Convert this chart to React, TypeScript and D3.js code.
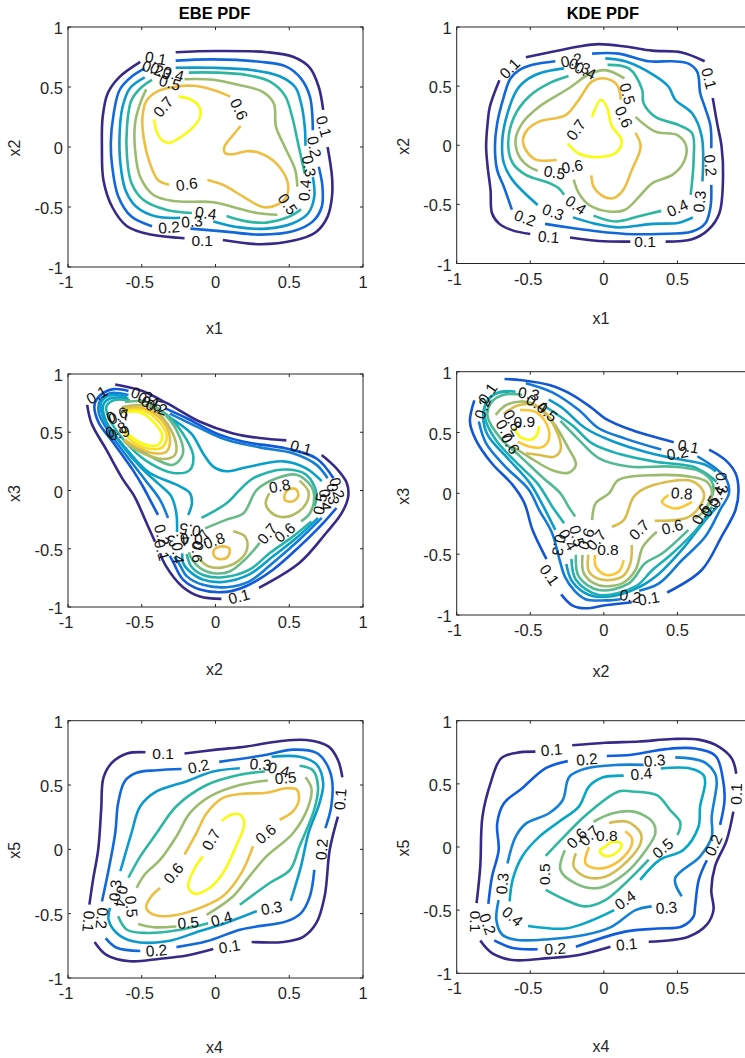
import React from "react";
import * as d3 from "d3";

type Seg = number[][];
type Contour = [number, Seg[]];
type Label = [string, number, number, number];

const tickValues = [-1, -0.5, 0, 0.5, 1];
const tickLabels = ["-1", "-0.5", "0", "0.5", "1"];
const parulaStops = ["#352a87", "#0f5cdd", "#1481d6", "#06a7c5", "#2db7a3", "#80bd7e", "#d2bb4f", "#fcbf38", "#f9fb0e"];

const ebe12: Contour[] = [
  [0.1, [
    [[-.27,.79],[0,.80],[.35,.79],[.53,.75],[.64,.66],[.70,.50],[.73,.31]],
    [[.76,0],[.79,-.25],[.79,-.41],[.76,-.58],[.68,-.71],[.53,-.78],[.30,-.81],[.05,-.775]],
    [[-.21,-.76],[-.44,-.73],[-.60,-.66],[-.70,-.50],[-.76,-.275],[-.77,0],[-.765,.25],[-.73,.45],[-.65,.585],[-.51,.71]],
  ]],
  [0.2, [
    [[-.27,.72],[-.02,.73],[.30,.71],[.48,.67],[.58,.57],[.64,.42],[.66,.14]],
    [[.70,-.165],[.725,-.33],[.72,-.50],[.66,-.62],[.53,-.70],[.30,-.73],[.07,-.705],[-.17,-.68]],
    [[-.43,-.66],[-.57,-.58],[-.66,-.41],[-.70,-.165],[-.71,.03],[-.69,.28],[-.65,.475],[-.57,.585],[-.48,.655]],
  ]],
  [0.3, [
    [[-.27,.66],[-.02,.66],[.255,.64],[.435,.59],[.54,.50],[.58,.365],[.605,.17],[.61,.01]],
    [[.66,-.25],[.67,-.41],[.63,-.55],[.525,-.635],[.345,-.68],[.165,-.67],[-.015,-.62]],
    [[-.24,-.59],[-.40,-.58],[-.535,-.50],[-.61,-.36],[-.645,-.135],[-.65,.115],[-.63,.335],[-.58,.49],[-.48,.58]],
  ]],
  [0.4, [
    [[-.18,.62],[.005,.62],[.21,.60],[.37,.545],[.47,.43],[.52,.25],[.56,.03],[.605,-.22]],
    [[.58,-.52],[.50,-.58],[.345,-.63],[.21,-.62],[.075,-.575]],
    [[-.16,-.55],[-.33,-.525],[-.49,-.44],[-.57,-.30],[-.60,-.08],[-.60,.17],[-.57,.39],[-.50,.50],[-.43,.56]],
  ]],
  [0.5, [
    [[-.21,.565],[-.015,.56],[.165,.515],[.32,.46],[.395,.365],[.41,.17],[.47,0],[.54,-.19],[.555,-.33]],
    [[.42,-.565],[.28,-.55],[.12,-.50],[-.015,-.46],[-.285,-.45],[-.42,-.40],[-.51,-.25],[-.545,-.025],[-.545,.20],[-.51,.365],[-.47,.48]],
  ]],
  [0.6, [
    [[.10,.42],[-.015,.475],[-.15,.51],[-.285,.50],[-.40,.46],[-.47,.38],[-.495,.25],[-.485,.06],[-.445,-.135],[-.39,-.275],[-.315,-.315]],
    [[-.055,-.275],[.05,-.315],[.19,-.415],[.32,-.50],[.41,-.485],[.48,-.415],[.49,-.30],[.41,-.135],[.30,-.05],[.21,-.035],[.12,-.06],[.065,-.05],[.06,0],[.12,.10],[.17,.175]],
  ]],
  [0.7, [
    [[-.25,.42],[-.175,.40],[-.11,.335],[-.105,.25],[-.16,.155],[-.265,.06],[-.31,.035],[-.355,.05],[-.40,.13],[-.415,.23]],
  ]],
];
const ebe12Labels: Label[] = [
  ["0.1",-.405,.74,10],["0.2",-.425,.655,20],["0.3",-.37,.635,25],["0.4",-.285,.61,15],["0.5",-.31,.535,15],
  ["0.7",-.355,.335,-50],["0.6",.16,.315,65],["0.1",.735,.17,75],["0.2",.67,0,80],["0.3",.635,-.16,80],
  ["0.4",.605,-.36,-85],["0.5",.49,-.475,55],["0.6",-.195,-.31,-8],["0.4",-.065,-.55,8],["0.3",-.16,-.62,-5],
  ["0.2",-.315,-.67,-5],["0.1",-.09,-.775,0],
];

const kde12: Contour[] = [
  [0.1, [
    [[-.53,.745],[-.35,.79],[-.17,.835],[-.035,.855],[.145,.835],[.33,.80],[.53,.785],[.685,.71]],
    [[.74,.40],[.77,.185],[.80,-.01],[.81,-.265],[.785,-.575],[.71,-.715],[.60,-.795],[.42,-.815]],
    [[.18,-.815],[-.035,-.81],[-.23,-.78]],
    [[-.50,-.75],[-.62,-.72],[-.71,-.665],[-.76,-.575],[-.77,-.38],[-.79,-.18],[-.80,-.01],[-.79,.185],[-.775,.325],[-.71,.55]],
  ]],
  [0.2, [
    [[-.33,.71],[-.485,.68],[-.575,.635],[-.635,.565],[-.68,.41],[-.725,.185],[-.74,-.01],[-.725,-.21],[-.68,-.35],[-.625,-.545]],
    [[-.08,.775],[.10,.775],[.305,.71],[.465,.71],[.575,.69],[.635,.62],[.655,.44],[.69,.31],[.725,.16],[.73,-.025]],
    [[.73,-.335],[.725,-.52],[.69,-.66],[.60,-.73],[.37,-.75],[.15,-.75],[-.035,-.73],[-.215,-.70],[-.40,-.665]],
  ]],
  [0.3, [
    [[-.27,.65],[-.42,.615],[-.51,.565],[-.59,.47],[-.655,.27],[-.69,.045],[-.68,-.15],[-.62,-.295],[-.45,-.505]],
    [[.01,.735],[.145,.71],[.35,.585],[.44,.495],[.485,.385],[.60,.27],[.665,.075],[.67,-.305]],
    [[.605,-.61],[.51,-.655],[.33,-.665],[.10,-.695],[-.055,-.665],[-.21,-.61]],
  ]],
  [0.4, [
    [[-.24,.585],[-.37,.525],[-.51,.41],[-.61,.24],[-.65,.015],[-.62,-.15],[-.53,-.25],[-.37,-.32],[-.305,-.365],[-.27,-.42]],
    [[.025,.68],[.17,.65],[.26,.47],[.27,.355],[.35,.24],[.51,.17],[.60,.10],[.61,-.125],[.59,-.42]],
    [[.39,-.555],[.24,-.60],[.08,-.645],[-.07,-.595]],
  ]],
  [0.5, [
    [[.14,.565],[.01,.635],[-.10,.60],[-.24,.48],[-.44,.325],[-.555,.185],[-.60,.045],[-.575,-.095],[-.51,-.18],[-.45,-.215]],
    [[.215,.24],[.35,.115],[.50,.085],[.56,-.01],[.54,-.15],[.465,-.25],[.33,-.32],[.24,-.435],[.145,-.545],[.035,-.56],[-.10,-.505],[-.17,-.405],[-.205,-.29]],
  ]],
  [0.6, [
    [[.115,.385],[.09,.51],[.01,.565],[-.08,.54],[-.17,.385],[-.26,.255],[-.44,.20],[-.52,.13],[-.55,.045],[-.53,-.04],[-.465,-.12],[-.32,-.125]],
    [[.215,.105],[.25,-.01],[.19,-.21],[.125,-.39],[.055,-.45],[-.02,-.42],[-.07,-.35],[-.085,-.255]],
  ]],
  [0.7, [
    [[-.08,.24],[-.02,.385],[.02,.325],[.055,.16],[.12,.045],[.09,-.055],[-.035,-.10],[-.17,-.07],[-.245,.015]],
  ]],
];
const kde12Labels: Label[] = [
  ["0.1",-.64,.65,-45],["0.2",-.22,.72,-12],["0.3",-.165,.67,20],["0.4",-.125,.63,25],["0.1",.715,.565,75],
  ["0.5",.16,.435,75],["0.6",.135,.24,65],["0.7",-.19,.13,-55],["0.2",.725,-.17,85],["0.3",.65,-.475,-85],
  ["0.4",.50,-.53,-25],["0.6",-.215,-.18,-10],["0.5",-.335,-.23,10],["0.4",-.19,-.505,35],["0.3",-.345,-.565,20],
  ["0.2",-.535,-.615,20],["0.1",-.375,-.775,5],["0.1",.28,-.815,0],
];

const ebe23: Contour[] = [
  [0.1, [
    [[-.68,.91],[-.51,.86],[-.33,.75],[-.105,.59],[.12,.49],[.30,.45],[.48,.43]],
    [[.72,.305],[.82,.19],[.89,.065],[.90,-.05],[.855,-.195],[.75,-.365],[.57,-.62],[.295,-.835]],
    [[.04,-.93],[-.105,-.91],[-.22,-.83],[-.34,-.64],[-.376,-.537]],
    [[-.87,.735],[-.84,.575],[-.74,.35],[-.63,.10],[-.55,-.05],[-.512,-.15],[-.46,-.30],[-.41,-.44]],
  ]],
  [0.2, [
    [[-.59,.855],[-.69,.87],[-.78,.82],[-.82,.735],[-.795,.59],[-.69,.405],[-.56,.175],[-.49,.03],[-.444,-.08],[-.39,-.21]],
    [[-.34,.705],[-.195,.62],[.005,.49],[.185,.42],[.48,.36],[.685,.275],[.80,.105]],
    [[.82,-.15],[.73,-.28],[.57,-.48],[.39,-.68],[.21,-.82],[.075,-.87],[-.105,-.85],[-.22,-.765],[-.285,-.62],[-.31,-.56]],
  ]],
  [0.3, [
    [[-.59,.82],[-.715,.835],[-.78,.78],[-.79,.66],[-.715,.49],[-.58,.26],[-.47,.08],[-.376,-.08],[-.322,-.236]],
    [[-.31,.66],[-.105,.535],[.075,.435],[.30,.37],[.525,.32],[.685,.22],[.76,.105]],
    [[.72,-.235],[.57,-.42],[.39,-.62],[.23,-.78],[.075,-.83],[-.085,-.81],[-.195,-.735],[-.25,-.62],[-.28,-.57]],
  ]],
  [0.4, [
    [[-.60,.805],[-.72,.815],[-.775,.755],[-.765,.64],[-.64,.40],[-.50,.19],[-.38,.05],[-.30,-.05],[-.265,-.2],[-.261,-.356]],
    [[-.59,.79],[-.715,.79],[-.76,.735],[-.74,.59],[-.58,.32],[-.445,.15],[-.265,.05],[-.175,-.02],[-.16,-.11],[-.185,-.21]],
    [[-.32,.635],[-.165,.49],[-.085,.32],[-.015,.205],[.075,.165],[.21,.20],[.46,.25],[.615,.19],[.72,.08]],
    [[.695,-.235],[.56,-.395],[.39,-.565],[.23,-.72],[.05,-.785],[-.085,-.765],[-.175,-.695],[-.22,-.62],[-.225,-.54]],
  ]],
  [0.5, [
    [[-.58,.775],[-.69,.775],[-.74,.72],[-.715,.605],[-.58,.375],[-.445,.235],[-.285,.15],[-.175,.175],[-.15,.29],[-.195,.435],[-.33,.65],[-.445,.735]],
    [[-.095,-.235],[.075,-.11],[.165,.005],[.255,.105],[.46,.18],[.615,.135],[.685,-.025],[.67,-.135]],
    [[.65,-.265],[.525,-.395],[.37,-.535],[.23,-.68],[.05,-.745],[-.085,-.725],[-.165,-.65],[-.195,-.545]],
  ]],
  [0.6, [
    [[-.615,.76],[-.465,.76],[-.355,.665],[-.265,.52],[-.22,.32],[-.285,.22],[-.40,.265],[-.535,.365],[-.62,.43]],
    [[-.07,-.325],[.075,-.25],[.19,-.195],[.28,.005],[.415,.105],[.55,.135],[.65,.035],[.67,-.05],[.64,-.195],[.58,-.265]],
    [[.30,-.45],[.21,-.58],[.095,-.695],[-.015,-.71],[-.105,-.665],[-.165,-.58],[-.18,-.53]],
  ]],
  [0.7, [
    [[-.635,.715],[-.465,.725],[-.355,.62],[-.27,.42],[-.275,.305],[-.355,.27],[-.465,.305],[-.56,.365],[-.62,.42]],
    [[.57,.085],[.63,-.01],[.615,-.11],[.525,-.21],[.435,-.225],[.37,-.18],[.34,-.11],[.365,-.025]],
    [[.12,-.35],[.20,-.395],[.215,-.495],[.165,-.595],[.05,-.66],[-.05,-.65],[-.115,-.58]],
  ]],
  [0.8, [
    [[-.635,.70],[-.49,.705],[-.375,.62],[-.31,.465],[-.33,.335],[-.42,.32],[-.535,.375],[-.62,.44]],
    [[.47,-.025],[.505,.015],[.55,.005],[.56,-.05],[.52,-.095],[.47,-.08],[.47,-.025]],
    [[-.005,-.50],[.04,-.48],[.095,-.50],[.085,-.565],[.04,-.59],[-.005,-.57],[-.015,-.53],[-.005,-.50]],
  ]],
  [0.9, [
    [[-.63,.68],[-.50,.69],[-.39,.60],[-.33,.47],[-.36,.37],[-.455,.36],[-.56,.42],[-.625,.505]],
  ]],
  [1.0, [
    [[-.63,.67],[-.51,.67],[-.41,.575],[-.36,.47],[-.39,.39],[-.465,.39],[-.56,.45],[-.62,.52]],
  ]],
];
const ebe23Labels: Label[] = [
  ["0.1",-.805,.82,-30],["0.3",-.50,.82,20],["0.4",-.455,.775,20],["0.5",-.43,.745,20],["0.2",-.40,.715,20],
  ["0.6",-.668,.648,-20],["0.7",-.654,.635,-15],["0.8",-.675,.52,-20],["0.9",-.654,.494,-15],
  ["0.1",.58,.37,15],["0.2",.824,.02,75],["0.3",.797,-.03,85],["0.4",.745,-.08,85],["0.5",.708,-.115,-80],
  ["0.8",.435,.04,-10],["0.8",-.01,-.43,-20],["0.7",.35,-.37,-50],["0.6",.47,-.36,-40],["0.1",.16,-.91,-15],
  ["0.2",-.363,-.382,75],["0.1",-.363,-.51,75],["0.3",-.254,-.425,170],["0.4",-.16,-.425,175],["0.5",-.173,-.339,190],
  ["0.4",-.254,-.536,85],["0.6",-.125,-.528,90],["0.7",-.098,-.425,-60],
];

const kde23: Contour[] = [
  [0.1, [
    [[-.675,.94],[-.555,.93],[-.37,.89],[-.215,.81],[-.08,.70],[.01,.615],[.19,.52],[.475,.42]],
    [[.715,.36],[.825,.275],[.895,.165],[.915,.03],[.895,-.135],[.80,-.355],[.665,-.63],[.43,-.815]],
    [[.19,-.895],[.01,-.92],[-.125,-.945],[-.215,-.92],[-.29,-.83]],
    [[-.39,-.54],[-.485,-.30],[-.54,-.08],[-.62,.07],[-.76,.245],[-.87,.44],[-.91,.59],[-.88,.765]],
  ]],
  [0.2, [
    [[-.85,.59],[-.80,.41],[-.67,.22],[-.51,.03],[-.44,-.135],[-.352,-.326],[-.30,-.55],[-.264,-.687],[-.20,-.80],[-.125,-.87],[.01,-.88],[.115,-.87]],
    [[-.53,.905],[-.35,.83],[-.17,.685],[-.035,.535],[.145,.45],[.39,.36]],
    [[.635,.305],[.76,.205],[.835,.11],[.85,0],[.79,-.135],[.69,-.355],[.53,-.55],[.375,-.74],[.24,-.80]],
  ]],
  [0.3, [
    [[-.645,.835],[-.735,.82],[-.80,.74],[-.82,.63],[-.79,.48],[-.655,.29],[-.50,.08],[-.41,-.11],[-.33,-.30]],
    [[-.375,.77],[-.28,.70],[-.125,.535],[.055,.43],[.285,.34],[.465,.29],[.69,.235],[.76,.18]],
    [[-.255,-.58],[-.215,-.725],[-.10,-.835],[.055,-.845],[.24,-.77],[.375,-.66],[.53,-.465],[.69,-.22],[.77,-.11]],
  ]],
  [0.4, [
    [[-.60,.835],[-.70,.835],[-.79,.765],[-.81,.63],[-.735,.44],[-.60,.26],[-.45,.08],[-.35,-.11],[-.27,-.245]],
    [[-.395,.71],[-.215,.56],[-.08,.41],[.10,.325],[.35,.26],[.60,.22],[.71,.15],[.765,.095]],
    [[.735,-.11],[.645,-.275],[.465,-.495],[.33,-.63],[.215,-.765],[-.035,-.835],[-.19,-.71],[-.22,-.54]],
  ]],
  [0.5, [
    [[-.555,.81],[-.68,.81],[-.77,.74],[-.79,.63],[-.70,.45],[-.565,.30],[-.42,.135],[-.295,0],[-.24,-.11],[-.195,-.19]],
    [[-.295,.595],[-.17,.44],[-.035,.29],[.17,.22],[.465,.22],[.655,.18],[.735,.095],[.745,.03],[.725,-.055],[.665,-.165]],
    [[.575,-.30],[.395,-.495],[.28,-.575],[.17,-.74],[-.035,-.795],[-.17,-.685],[-.19,-.505]],
  ]],
  [0.6, [
    [[-.735,.645],[-.665,.725],[-.555,.755],[-.465,.725],[-.35,.59],[-.24,.37],[-.19,.235],[-.24,.17],[-.35,.19],[-.51,.30],[-.62,.385]],
    [[-.08,-.22],[-.055,-.08],[.035,0],[.10,.11],[.35,.15],[.60,.135],[.70,.095],[.735,0],[.69,-.135],[.62,-.205]],
    [[.36,-.315],[.265,-.44],[.215,-.63],[.125,-.74],[-.035,-.755],[-.135,-.66],[-.145,-.505]],
  ]],
  [0.7, [
    [[-.68,.65],[-.58,.725],[-.44,.71],[-.315,.495],[-.295,.355],[-.34,.30],[-.44,.315],[-.53,.33]],
    [[.055,-.275],[.135,-.22],[.205,-.025],[.305,.055],[.60,.10],[.68,0],[.635,-.135],[.555,-.205],[.345,-.225]],
    [[.19,-.425],[.18,-.575],[.125,-.685],[-.01,-.71],[-.10,-.645],[-.105,-.505]],
  ]],
  [0.8, [
    [[-.57,.685],[-.465,.67],[-.385,.56],[-.375,.44],[-.42,.38],[-.51,.385],[-.585,.425]],
    [[.135,-.55],[.10,-.645],[.01,-.67],[-.055,-.60],[-.06,-.505]],
    [[.44,-.015],[.395,-.07],[.485,-.125],[.60,-.07]],
  ]],
  [0.9, [
    [[-.61,.54],[-.565,.46],[-.485,.445],[-.45,.495],[-.44,.555]],
  ]],
];
const kde23Labels: Label[] = [
  ["0.1",-.79,.82,-55],["0.2",-.825,.70,-70],["0.3",-.51,.82,10],["0.4",-.455,.74,30],["0.5",-.385,.67,40],
  ["0.9",-.54,.59,0],["0.8",-.62,.60,60],["0.7",-.67,.52,60],["0.6",-.635,.41,60],["0.1",.575,.385,10],
  ["0.2",.50,.33,-10],["0.8",.53,0,5],["0.3",.803,.085,85],["0.4",.769,-.03,-70],["0.5",.72,-.105,-60],["0.6",.66,-.17,-60],
  ["0.6",.465,-.275,-15],["0.7",.24,-.30,-45],["0.8",.028,-.465,0],["0.1",-.37,-.67,55],["0.2",.18,-.845,10],
  ["0.1",.305,-.865,-10],["0.3",-.305,-.425,100],["0.4",-.244,-.383,60],["0.5",-.182,-.35,75],["0.6",-.121,-.375,-70],["0.7",-.053,-.383,-50],
];

const ebe45: Contour[] = [
  [0.1, [
    [[-.475,.755],[-.60,.745],[-.705,.67],[-.76,.555],[-.775,.31],[-.795,0],[-.83,-.235],[-.855,-.43]],
    [[-.82,-.72],[-.74,-.82],[-.58,-.87],[-.375,-.85],[-.195,-.825],[-.015,-.775]],
    [[.245,-.72],[.46,-.72],[.595,-.68],[.685,-.57],[.74,-.365],[.775,0],[.83,.255]],
    [[.86,.56],[.83,.695],[.765,.80],[.615,.85],[.435,.84],[.21,.80],[.005,.775],[-.21,.745]],
  ]],
  [0.2, [
    [[-.23,.625],[-.40,.615],[-.535,.595],[-.615,.53],[-.66,.36],[-.68,.125],[-.725,-.16],[-.77,-.405]],
    [[-.745,-.69],[-.67,-.765],[-.51,-.79]],
    [[-.265,-.76],[-.06,-.715],[.165,-.625],[.28,-.60],[.48,-.56],[.58,-.495],[.64,-.365],[.67,-.16]],
    [[.745,.165],[.785,.335],[.79,.54],[.75,.67],[.685,.75],[.525,.775],[.345,.735],[.025,.68]],
  ]],
  [0.3, [
    [[.165,.63],[-.015,.605],[-.195,.53],[-.40,.45],[-.51,.335],[-.57,.125],[-.645,-.17]],
    [[.38,.72],[.57,.72],[.685,.66],[.73,.515],[.705,.36],[.63,.125],[.58,-.13],[.51,-.40]],
    [[.28,-.48],[.075,-.57],[-.105,-.635],[-.33,-.715],[-.56,-.715],[-.67,-.65],[-.725,-.545],[-.715,-.455]],
  ]],
  [0.4, [
    [[.335,.605],[.165,.58],[-.06,.50],[-.265,.335],[-.40,.125],[-.51,-.055],[-.59,-.22]],
    [[.57,.65],[.66,.615],[.695,.49],[.67,.31],[.57,.025],[.505,-.16],[.37,-.26],[.165,-.43]],
    [[-.05,-.575],[-.24,-.625],[-.465,-.65],[-.60,-.625],[-.66,-.52]],
  ]],
  [0.5, [
    [[.355,.535],[.165,.50],[-.04,.41],[-.175,.28],[-.265,.10],[-.375,-.08],[-.48,-.195],[-.535,-.30]],
    [[.61,.56],[.65,.475],[.63,.335],[.525,.125],[.345,-.055],[.23,-.21],[.12,-.365],[-.06,-.51]],
    [[-.525,-.58],[-.42,-.605],[-.265,-.60]],
  ]],
  [0.6, [
    [[-.21,-.04],[-.13,.125],[-.06,.28],[.05,.40],[.165,.43],[.345,.44],[.48,.475],[.55,.465],[.565,.385],[.525,.295],[.435,.23]],
    [[.255,.025],[.175,-.185],[.05,-.365],[-.105,-.455],[-.265,-.51],[-.40,-.515],[-.47,-.455],[-.435,-.365],[-.375,-.30]],
  ]],
  [0.7, [
    [[.04,.22],[.11,.27],[.165,.27],[.195,.20],[.14,.025],[.05,-.185],[-.04,-.30],[-.14,-.345],[-.185,-.29],[-.14,-.145],[-.085,-.055]],
  ]],
];
const ebe45Labels: Label[] = [
  ["0.1",-.355,.745,0],["0.2",-.115,.645,-12],["0.3",.305,.66,5],["0.4",.43,.62,15],["0.5",.475,.555,-5],
  ["0.7",-.03,.075,-60],["0.6",.34,.12,-40],["0.6",-.285,-.185,-50],["0.1",.845,.39,-85],["0.2",.72,0,-85],
  ["0.3",-.68,-.32,-85],["0.4",-.64,-.365,100],["0.5",-.57,-.445,85],["0.1",-.86,-.56,95],["0.2",-.77,-.535,95],
  ["0.5",-.185,-.57,-5],["0.4",.04,-.54,-15],["0.3",.38,-.455,-10],["0.2",-.40,-.785,-5],["0.1",.095,-.755,-10],
];

const kde45: Contour[] = [
  [0.1, [
    [[-.215,.805],[.01,.825],[.24,.835],[.465,.855],[.645,.85],[.78,.795],[.87,.70],[.90,.58]],
    [[.88,.28],[.835,.055],[.755,-.155],[.73,-.34],[.745,-.50],[.70,-.615],[.575,-.71],[.305,-.75]],
    [[.045,-.79],[-.17,-.855],[-.375,-.88],[-.62,-.895],[-.76,-.84],[-.84,-.74]],
    [[-.865,-.445],[-.84,-.155],[-.825,.24],[-.77,.505],[-.70,.70],[-.60,.745],[-.465,.755]],
  ]],
  [0.2, [
    [[-.245,.68],[-.395,.625],[-.555,.465],[-.68,.345],[-.725,.185],[-.715,-.025],[-.76,-.235],[-.785,-.45]],
    [[.02,.72],[.19,.73],[.42,.775],[.62,.78],[.76,.72],[.81,.53],[.82,.37],[.79,.175]],
    [[.70,-.105],[.645,-.26],[.62,-.47],[.61,-.55],[.53,-.63],[.37,-.645],[.145,-.67],[-.19,-.79]],
    [[-.45,-.81],[-.62,-.80],[-.745,-.74]],
  ]],
  [0.3, [
    [[.27,.65],[.10,.65],[-.125,.62],[-.235,.555],[-.28,.37],[-.375,.265],[-.53,.185],[-.60,.08],[-.655,-.13]],
    [[.485,.71],[.677,.675],[.756,.58],[.767,.505],[.733,.24],[.733,.08],[.653,-.076],[.484,-.25],[.529,-.39]],
    [[.325,-.47],[.215,-.50],[.055,-.63],[-.125,-.695],[-.375,-.73],[-.60,-.735],[-.69,-.695],[-.73,-.58],[-.715,-.42]],
  ]],
  [0.4, [
    [[.135,.565],[-.01,.55],[-.10,.48],[-.17,.32],[-.305,.20],[-.44,.08],[-.555,-.075],[-.62,-.26],[-.64,-.43]],
    [[.387,.622],[.586,.622],[.677,.57],[.688,.504],[.654,.32],[.643,.16],[.54,-.024],[.382,-.10],[.247,-.26]],
    [[.07,-.50],[-.10,-.59],[-.26,-.645],[-.515,-.625]],
  ]],
  [0.5, [
    [[-.395,-.07],[-.28,.07],[-.125,.25],[.10,.44],[.19,.44],[.36,.41],[.45,.293],[.518,.20],[.518,.148],[.50,.095]],
    [[.305,-.10],[.17,-.26],[.01,-.42],[-.125,-.47],[-.24,-.43],[-.395,-.34]],
  ]],
  [0.6, [
    [[-.07,.20],[.055,.265],[.205,.28],[.33,.20],[.35,.11],[.285,-.025],[.145,-.21],[-.035,-.325],[-.19,-.29],[-.295,-.18],[-.265,-.025]],
  ]],
  [0.7, [
    [[.035,.19],[.16,.20],[.25,.11],[.25,.03],[.17,-.10],[.01,-.235],[-.125,-.235],[-.205,-.155],[-.19,-.05]],
  ]],
  [0.8, [
    [[.145,.125],[.19,.07],[.18,-.01],[.08,-.13],[-.035,-.17],[-.125,-.13],[-.10,0]],
  ]],
  [0.9, [
    [[.01,0],[.055,.04],[.115,.03],[.115,-.01],[.045,-.07],[-.01,-.06],[-.025,-.025],[.01,0]],
  ]],
];
const kde45Labels: Label[] = [
  ["0.1",-.355,.77,-5],["0.2",-.115,.695,-5],["0.3",.345,.685,-5],["0.4",.255,.58,-5],["0.1",.90,.42,-88],
  ["0.2",.745,.015,-65],["0.6",-.185,.07,-45],["0.7",-.10,.09,-45],["0.8",.02,.095,0],["0.5",.40,-.01,-40],
  ["0.5",-.405,-.215,-90],["0.3",-.69,-.29,-85],["0.4",.145,-.42,-35],["0.3",.425,-.48,-5],["0.4",-.62,-.55,40],
  ["0.2",-.79,-.61,70],["0.1",-.87,-.59,90],["0.2",-.33,-.805,-3],["0.1",.155,-.77,-5],
];

const FONT = "'Liberation Sans', Arial, sans-serif";
const axisColor = "#262626";
const pageWidth = 745;

type PanelProps = {
  box: [number, number, number, number];
  xName: string; yName: string; title?: string;
  xNameY: number; yNameShift: number; xNameShift?: number;
  contours: Contour[]; labels: Label[];
  colorDomain: [number, number];
};

function Panel({ box, xName, yName, title, xNameY, yNameShift, xNameShift = 0, contours, labels, colorDomain }: PanelProps) {
  const [x0, x1, y0, y1] = box;
  const x = d3.scaleLinear().domain([-1, 1]).range([x0, x1]);
  const y = d3.scaleLinear().domain([-1, 1]).range([y1, y0]);
  const t = d3.scaleLinear().domain(colorDomain).range([0, 1]).clamp(true);
  const parula = d3.scaleLinear<string>()
    .domain(parulaStops.map((_, i) => i / (parulaStops.length - 1)))
    .range(parulaStops).interpolate(d3.interpolateRgb);
  const path = d3.line<number[]>().x((d) => x(d[0])).y((d) => y(d[1])).curve(d3.curveCatmullRom.alpha(0.5));
  const tick = 3;
  return (
    <g fontFamily={FONT}>
      {title && <text x={(x0 + x1) / 2 - 1} y={y0 - 8} textAnchor="middle" fontWeight="bold" fontSize={16.5} fill="#000">{title}</text>}
      <rect x={x0} y={y0} width={x1 - x0} height={y1 - y0} fill="#fff" stroke={axisColor} strokeWidth={1} />
      {tickValues.map((v, i) => (
        <g key={i} stroke={axisColor} strokeWidth={1}>
          <line x1={x(v)} x2={x(v)} y1={y1} y2={y1 - tick} />
          <line x1={x(v)} x2={x(v)} y1={y0} y2={y0 + tick} />
          <line y1={y(v)} y2={y(v)} x1={x0} x2={x0 + tick} />
          <line y1={y(v)} y2={y(v)} x1={x1} x2={x1 - tick} />
        </g>
      ))}
      {tickValues.filter((v) => x(v) < pageWidth).map((v) => (
        <text key={v} x={x(v) - (v < 0 ? 2 : 0)} y={y1 + 21} textAnchor="middle" fontSize={16.5} fill={axisColor}>{tickLabels[tickValues.indexOf(v)]}</text>
      ))}
      {tickValues.map((v, i) => (
        <text key={i} x={x0 - 5} y={y(v) + 7} textAnchor="end" fontSize={16.5} fill={axisColor}>{tickLabels[i]}</text>
      ))}
      <text x={(x0 + x1) / 2 - 1 + xNameShift} y={xNameY} textAnchor="middle" fontSize={16} fill={axisColor}>{xName}</text>
      <text transform={`translate(${x0 - 48},${(y0 + y1) / 2 + yNameShift}) rotate(-90)`} textAnchor="middle" fontSize={16} fill={axisColor}>{yName}</text>
      {contours.map(([level, segs]) =>
        segs.map((s, i) => (
          <path key={`${level}-${i}`} d={path(s) || ""} fill="none" stroke={parula(t(level))} strokeWidth={2.6} strokeLinecap="butt" strokeLinejoin="round" />
        ))
      )}
      {labels.map(([txt, lx, ly, a], i) => (
        <text key={i} transform={`translate(${x(lx)},${y(ly)}) rotate(${a})`} textAnchor="middle" dominantBaseline="central" fontSize={15.5} fill="#111">{txt}</text>
      ))}
    </g>
  );
}

export default function App() {
  return (
    <svg width={745} height={1058} viewBox="0 0 745 1058" style={{ position: "absolute", left: 0, top: 0, display: "block" }}>
      <rect width={745} height={1058} fill="#fff" />
      <Panel box={[68, 363, 27, 267]} xName="x1" yName="x2" title="EBE PDF" xNameY={334} yNameShift={1} contours={ebe12} labels={ebe12Labels} colorDomain={[0.1, 0.7]} />
      <Panel box={[456.7, 751, 27, 263.5]} xName="x1" yName="x2" title="KDE PDF" xNameY={324} yNameShift={1} xNameShift={-2} contours={kde12} labels={kde12Labels} colorDomain={[0.1, 0.7]} />
      <Panel box={[68, 363, 374, 607]} xName="x2" yName="x3" xNameY={675} yNameShift={3} contours={ebe23} labels={ebe23Labels} colorDomain={[0.1, 0.95]} />
      <Panel box={[456.7, 751, 371.7, 615]} xName="x2" yName="x3" xNameY={677} yNameShift={3} xNameShift={-2} contours={kde23} labels={kde23Labels} colorDomain={[0, 0.9]} />
      <Panel box={[68, 363, 720.7, 978]} xName="x4" yName="x5" xNameY={1053} yNameShift={1} contours={ebe45} labels={ebe45Labels} colorDomain={[0.1, 0.7]} />
      <Panel box={[456.7, 751, 720.7, 973.3]} xName="x4" yName="x5" xNameY={1052} yNameShift={1} xNameShift={-2} contours={kde45} labels={kde45Labels} colorDomain={[0.1, 0.9]} />
    </svg>
  );
}
